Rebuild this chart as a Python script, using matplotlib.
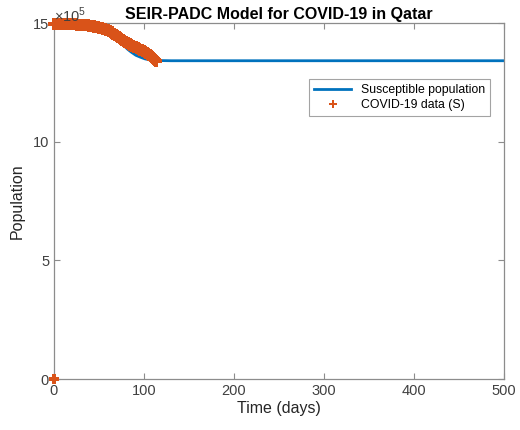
import matplotlib
matplotlib.use('Agg')
from matplotlib import pyplot as plt

matplotlib.rcParams['font.family'] = ['Liberation Sans', 'DejaVu Sans']
matplotlib.rcParams['mathtext.fontset'] = 'custom'
matplotlib.rcParams['mathtext.rm'] = 'Liberation Sans'

# model curve (susceptible), days / population
model_t = [0, 20, 40, 50, 55, 60, 64, 68, 72, 77, 82, 86, 91, 96, 101, 107, 115, 130, 500]
model_s = [1498000, 1497500, 1495000, 1491000, 1487000, 1480000, 1468000, 1449000, 1428000,
           1407000, 1389000, 1377000, 1364000, 1356000, 1349000, 1344000, 1342000, 1341000, 1341000]

# COVID-19 data (S)
data_t = list(range(0, 114))
data_s = [1497000, 1497000, 1496900, 1496900, 1496800, 1496800, 1496700, 1496700, 1496600, 1496500,
          1496400, 1496300, 1496200, 1496100, 1496000, 1495800, 1495700, 1495500, 1495300, 1495100,
          1494900, 1494700, 1494500, 1494300, 1494000, 1493800, 1493500, 1493200, 1492900, 1492600,
          1492300, 1492000, 1491700, 1491400, 1491000, 1490700, 1490300, 1490000, 1489600, 1489200,
          1488800, 1488100, 1487400, 1486600, 1485800, 1485000, 1484200, 1483400, 1482500, 1481600,
          1480700, 1479800, 1478800, 1477700, 1476600, 1475400, 1474200, 1472900, 1471500, 1470100,
          1468600, 1467100, 1465500, 1463200, 1460800, 1458300, 1455700, 1453100, 1450400, 1447700,
          1445000, 1442300, 1439700, 1437100, 1434500, 1432000, 1429500, 1427000, 1424500, 1422000,
          1419600, 1417200, 1414800, 1412500, 1410200, 1408200, 1406300, 1404500, 1402700, 1400900,
          1399100, 1397300, 1395500, 1393700, 1391900, 1390100, 1388300, 1386300, 1384300, 1382200,
          1380100, 1377900, 1375700, 1373400, 1371100, 1368700, 1366200, 1363600, 1360000, 1356000,
          1351800, 1347400, 1342800, 1338000]
# stray zero point of the data at day 0
zero_t = [0]
zero_s = [0]

yticks = [0, 500000, 1000000, 1500000]
ytick_labels = ['0', '5', '10', '15']

fig = plt.figure(figsize=(5.2, 4.3), dpi=100)
ax = fig.add_axes([0.1038, 0.1186, 0.8654, 0.8279])

ax.plot(model_t, model_s, color='#0072BD', lw=2, label='Susceptible population', zorder=2)
ax.plot(data_t, data_s, linestyle='none', marker='P', markersize=8.5, color='#D95319',
        markeredgewidth=0, label='COVID-19 data (S)', zorder=3, clip_on=False)
ax.plot(zero_t, zero_s, linestyle='none', marker='P', markersize=6.5, color='#D95319',
        markeredgewidth=0, zorder=3, clip_on=False)

ax.set_xlim(0, 500)
ax.set_ylim(0, 1500000)
ax.set_xticks([0, 100, 200, 300, 400, 500])
ax.set_yticks(yticks)
ax.set_yticklabels(ytick_labels)
ax.tick_params(direction='in', top=True, right=True, length=4, labelsize=10.5,
               color='#8c8c8c', labelcolor='#404040')
for sp in ax.spines.values():
    sp.set_color('#8c8c8c')
    sp.set_linewidth(0.9)

ax.text(0.0, 0.995, r'$\times10^{5}$', transform=ax.transAxes, ha='left', va='bottom',
        fontsize=10.5, color='#404040')
ax.set_title('SEIR-PADC Model for COVID-19 in Qatar', fontsize=11.5, fontweight='bold', pad=3)
ax.set_xlabel('Time (days)', fontsize=11.5, color='#262626', labelpad=2)
ax.set_ylabel('Population', fontsize=11.5, color='#262626', labelpad=6)

leg = ax.legend(loc='upper right', bbox_to_anchor=(0.982, 0.86), fontsize=8.8, frameon=True,
                fancybox=False, edgecolor='#8c8c8c', handlelength=3.0, borderpad=0.4,
                labelspacing=0.25, markerscale=0.7)
leg.get_frame().set_linewidth(0.8)

plt.savefig('out.png', dpi=100)
